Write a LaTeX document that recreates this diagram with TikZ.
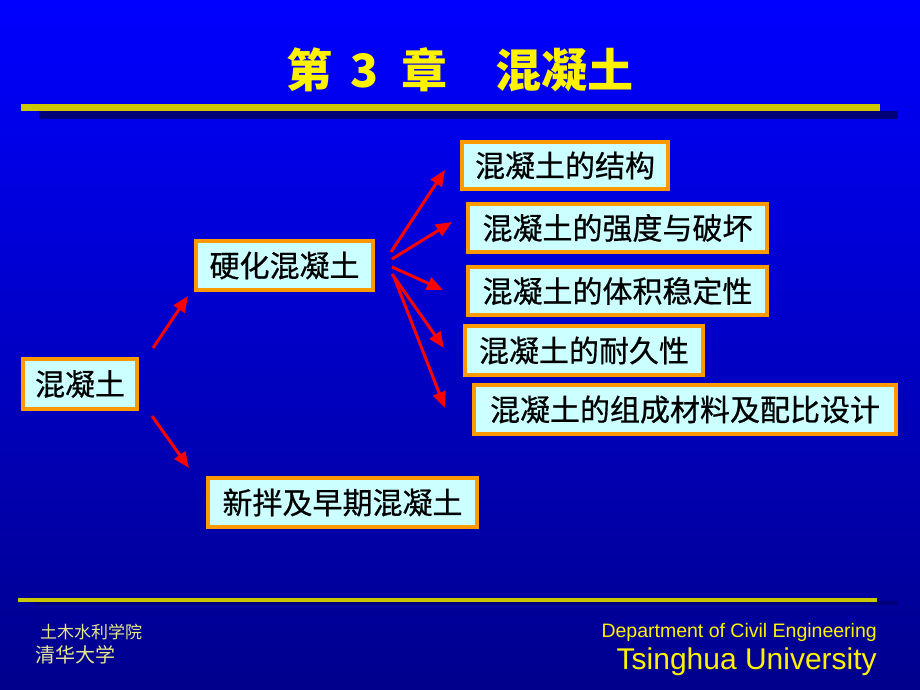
\documentclass[tikz,border=0pt]{standalone}
\usepackage{fontspec}
\setmainfont{Liberation Sans}
\newfontfamily\cjk{Noto Sans CJK SC}
\newfontfamily\cjkbox[FakeBold=0.6]{Noto Sans CJK SC}
\usetikzlibrary{arrows.meta}
\definecolor{boxfill}{RGB}{204,255,255}
\definecolor{boxline}{RGB}{255,153,0}
\definecolor{baryellow}{RGB}{204,200,0}
\definecolor{barshadow}{RGB}{0,0,120}
\definecolor{foottext}{RGB}{230,230,140}
\definecolor{arrowred}{RGB}{255,0,0}
\tikzset{
  topicbox/.style={draw=boxline, line width=4pt, fill=boxfill, inner sep=0pt,
    font=\cjkbox\fontsize{30}{30}\selectfont, text=black},
  redarrow/.style={draw=arrowred, line width=3pt, -{Triangle[length=16pt,width=13pt]}},
}
\begin{document}
\begin{tikzpicture}[x=1pt,y=-1pt]
\shade[top color={rgb,255:red,0;green,0;blue,255}, middle color={rgb,255:red,0;green,0;blue,222}, bottom color={rgb,255:red,0;green,0;blue,140}] (0,0) rectangle (920,690);
\useasboundingbox (0,0) rectangle (920,690);
% title
\node[text=yellow, font=\cjk\bfseries\fontsize{46}{46}\selectfont] (title) at (460,70)
  {第\hspace{0.4em}3\hspace{0.5em}章\hspace{1.05em}混凝土};
\fill[barshadow] (39,111) rectangle (898,119);
\fill[baryellow] (21,104) rectangle (880,111);
% bottom bar
\fill[barshadow] (35,601) rectangle (898,605);
\fill[baryellow] (18,598) rectangle (877,602);
% boxes
\node[topicbox, minimum width=114pt, minimum height=50pt] (root) at (80,384) {混凝土};
\node[topicbox, minimum width=177pt, minimum height=49pt] (hard) at (284.5,265.5) {硬化混凝土};
\node[topicbox, minimum width=269pt, minimum height=49pt] (fresh) at (342.5,502.5) {新拌及早期混凝土};
\node[topicbox, minimum width=206pt, minimum height=47pt] (r1) at (565,165.5) {混凝土的结构};
\node[topicbox, minimum width=299pt, minimum height=48pt] (r2) at (617.5,228) {混凝土的强度与破坏};
\node[topicbox, minimum width=299pt, minimum height=48pt] (r3) at (617.5,291) {混凝土的体积稳定性};
\node[topicbox, minimum width=238pt, minimum height=49pt] (r4) at (584,350.5) {混凝土的耐久性};
\node[topicbox, minimum width=422pt, minimum height=49pt] (r5) at (685,409.5) {混凝土的组成材料及配比设计};
% arrow end points
\coordinate (a1s) at (153,348); \coordinate (a1e) at (188,296);
\coordinate (a2s) at (152,416); \coordinate (a2e) at (189,468);
\coordinate (b1s) at (391,252); \coordinate (b1e) at (445,170);
\coordinate (b2s) at (392,259); \coordinate (b2e) at (452,222);
\coordinate (b3s) at (392,267); \coordinate (b3e) at (443,290);
\coordinate (b4s) at (392,274); \coordinate (b4e) at (444,348);
\coordinate (b5s) at (394,277); \coordinate (b5e) at (445,408);
\draw[redarrow] (a1s) -- (a1e);
\draw[redarrow] (a2s) -- (a2e);
\draw[redarrow] (b1s) -- (b1e);
\draw[redarrow] (b2s) -- (b2e);
\draw[redarrow] (b3s) -- (b3e);
\draw[redarrow] (b4s) -- (b4e);
\draw[redarrow] (b5s) -- (b5e);
% footer
\node[anchor=west, inner sep=0pt, text=foottext, font=\cjk\fontsize{17}{17}\selectfont] (school) at (40,632) {土木水利学院};
\node[anchor=west, inner sep=0pt, text=foottext, font=\cjk\fontsize{20}{20}\selectfont] (univcn) at (35,655) {清华大学};
\node[anchor=east, inner sep=0pt, text=yellow, font=\fontsize{19.5}{19.5}\selectfont] (dept) at (877,632) {Department of Civil Engineering};
\node[anchor=east, inner sep=0pt, text=yellow, font=\fontsize{30}{30}\selectfont] (univ) at (877,662) {Tsinghua University};
\end{tikzpicture}
\end{document}
